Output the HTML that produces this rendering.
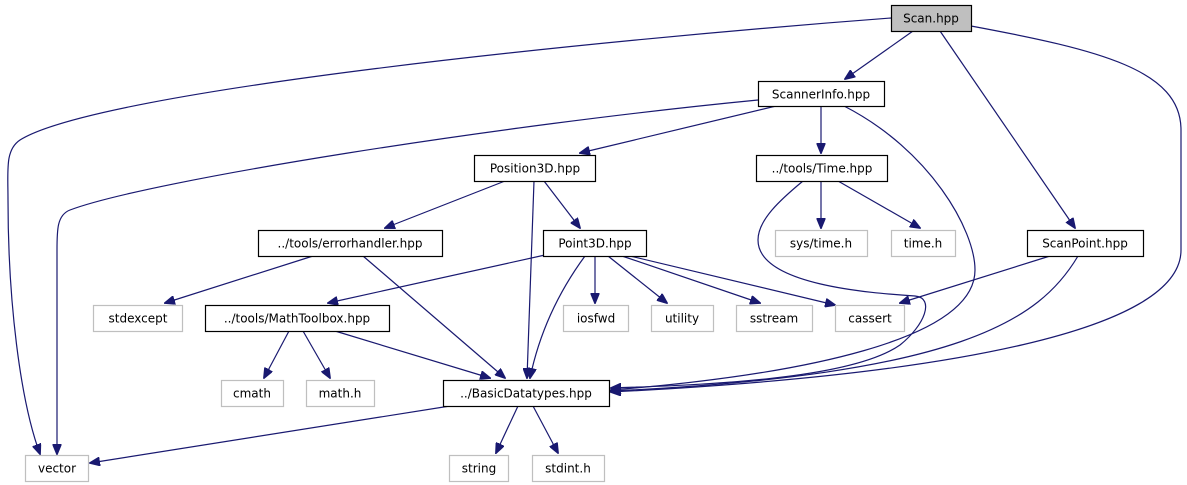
<!DOCTYPE html>
<html><head><meta charset="utf-8"><style>
html,body{margin:0;padding:0;background:#fff;}
svg{display:block;}
text{font-family:"DejaVu Sans","Liberation Sans",sans-serif;font-size:12px;fill:#000;text-anchor:middle;}
.n{fill:#fff;stroke:#000;stroke-width:1.2;}
.g{fill:#fff;stroke:#bfbfbf;stroke-width:1.2;}
.e{fill:none;stroke:#191970;stroke-width:1.2;}
</style></head><body>
<svg width="1187" height="485" viewBox="0 0 1187 485" xmlns="http://www.w3.org/2000/svg">
<defs><marker id="a" markerWidth="11" markerHeight="9" refX="10" refY="4.5" orient="auto" markerUnits="userSpaceOnUse"><path d="M0,0 L11,4.5 L0,9 z" fill="#191970" stroke="#191970"/></marker></defs>
<g class="e" marker-end="url(#a)">
<path d="M891,18 C600,40 100,90 20,140 C5,150 8,170 8,200 C8,300 20,400 40,454"/>
<path d="M913,31 L845,79"/>
<path d="M940,31 L1075,228"/>
<path d="M971,26 C1100,50 1181,70 1181,130 L1181,250 C1181,330 950,375 611,392"/>
<path d="M758,100 C500,125 150,180 70,210 C57,215 57,230 57,250 L57,454"/>
<path d="M776,106 L580,153"/>
<path d="M821,106 L821,153"/>
<path d="M844,106 C930,150 975,230 975,270 C975,340 800,375 611,390"/>
<path d="M505,181 L385,228"/>
<path d="M544,181 L580,228"/>
<path d="M534,181 L527,378"/>
<path d="M821,181 L821,228"/>
<path d="M838,181 L920,228"/>
<path d="M803,181 C780,200 758,220 758,240 C758,285 870,293 915,296 C935,298 925,325 900,345 C850,380 700,385 611,388"/>
<path d="M313,256 L165,303"/>
<path d="M363,256 L505,378"/>
<path d="M545,255 L328,303"/>
<path d="M585,256 C560,290 540,330 530,378"/>
<path d="M595,256 L595,303"/>
<path d="M608,256 L667,303"/>
<path d="M622,256 L760,303"/>
<path d="M630,256 L835,305"/>
<path d="M1050,256 L900,303"/>
<path d="M1078,256 C1040,320 960,375 611,391"/>
<path d="M289,331 L264,378"/>
<path d="M303,331 L330,378"/>
<path d="M335,331 L490,378"/>
<path d="M450,406 L90,463"/>
<path d="M518,406 L496,453"/>
<path d="M533,406 L558,453"/>
</g>
<rect x="891.5" y="5.5" width="80" height="26" fill="#bfbfbf" stroke="#000" stroke-width="1.2"/><text x="931" y="22.5">Scan.hpp</text>
<rect class="n" x="758.5" y="81.5" width="126" height="25"/><text x="821" y="98.5">ScannerInfo.hpp</text>
<rect class="n" x="474.5" y="155.5" width="121" height="26"/><text x="535" y="172.5">Position3D.hpp</text>
<rect class="n" x="756.5" y="155.5" width="131" height="26"/><text x="822" y="172.5">../tools/Time.hpp</text>
<rect class="n" x="258.5" y="230.5" width="184" height="26"/><text x="350" y="247.5">../tools/errorhandler.hpp</text>
<rect class="n" x="543.5" y="230.5" width="103" height="26"/><text x="595" y="247.5">Point3D.hpp</text>
<rect class="g" x="775.5" y="230.5" width="92" height="26"/><text x="821" y="247.5">sys/time.h</text>
<rect class="g" x="891.5" y="230.5" width="64" height="26"/><text x="923" y="247.5">time.h</text>
<rect class="n" x="1027.5" y="230.5" width="116" height="26"/><text x="1085" y="247.5">ScanPoint.hpp</text>
<rect class="g" x="93.5" y="305.5" width="89" height="26"/><text x="138" y="322.5">stdexcept</text>
<rect class="n" x="205.5" y="305.5" width="184" height="26"/><text x="297" y="322.5">../tools/MathToolbox.hpp</text>
<rect class="g" x="563.5" y="305.5" width="65" height="26"/><text x="596" y="322.5">iosfwd</text>
<rect class="g" x="651.5" y="305.5" width="62" height="26"/><text x="682" y="322.5">utility</text>
<rect class="g" x="736.5" y="305.5" width="76" height="26"/><text x="774" y="322.5">sstream</text>
<rect class="g" x="835.5" y="305.5" width="69" height="26"/><text x="870" y="322.5">cassert</text>
<rect class="g" x="221.5" y="380.5" width="62" height="26"/><text x="252" y="397.5">cmath</text>
<rect class="g" x="306.5" y="380.5" width="68" height="26"/><text x="340" y="397.5">math.h</text>
<rect class="n" x="443.5" y="380.5" width="166" height="26"/><text x="526" y="397.5">../BasicDatatypes.hpp</text>
<rect class="g" x="25.5" y="455.5" width="63" height="26"/><text x="57" y="472.5">vector</text>
<rect class="g" x="449.5" y="455.5" width="59" height="26"/><text x="479" y="472.5">string</text>
<rect class="g" x="532.5" y="455.5" width="72" height="26"/><text x="568" y="472.5">stdint.h</text>
</svg>
</body></html>
